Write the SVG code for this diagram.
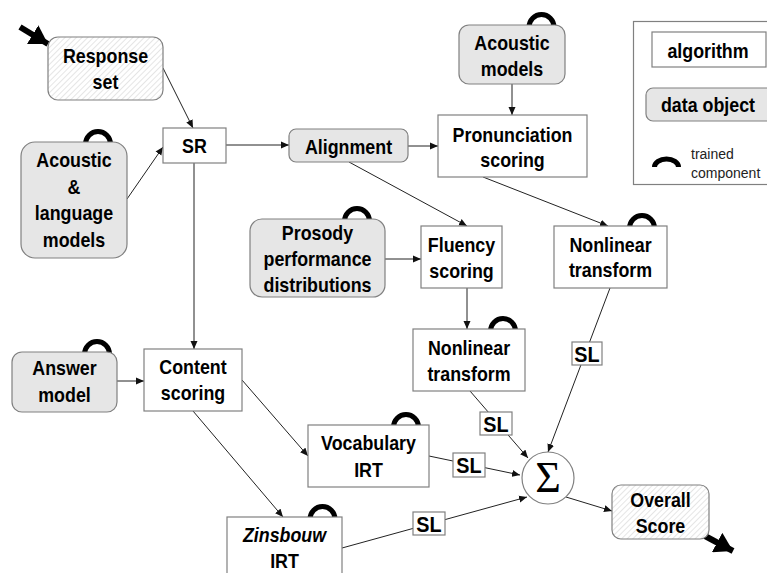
<svg xmlns="http://www.w3.org/2000/svg" width="767" height="573" viewBox="0 0 767 573">
<defs>
<pattern id="hatch" patternUnits="userSpaceOnUse" width="4" height="4" patternTransform="rotate(45)">
<rect width="4" height="4" fill="#ffffff"/>
<line x1="0" y1="0" x2="0" y2="4" stroke="#d4d4d4" stroke-width="1.2"/>
</pattern>
<marker id="ah" markerUnits="userSpaceOnUse" markerWidth="9" markerHeight="8" refX="8" refY="4" orient="auto">
<path d="M0,0.5 L8,4 L0,7.5 Z" fill="#111"/>
</marker>
<marker id="big" markerUnits="userSpaceOnUse" markerWidth="20" markerHeight="22" refX="18" refY="11" orient="auto">
<path d="M0,0 L18,11 L0,22 Z" fill="#000"/>
</marker>
</defs>
<style>
.alg{fill:#fff;stroke:#808080;stroke-width:1.2}
.dat{fill:#e6e6e6;stroke:#808080;stroke-width:1.2}
.hat{fill:url(#hatch);stroke:#808080;stroke-width:1.2}
.t{font-family:"Liberation Sans",Arial,sans-serif;font-weight:bold;font-size:21px;fill:#000;text-anchor:middle}
.sl{font-family:"Liberation Sans",Arial,sans-serif;font-weight:bold;font-size:22px;fill:#000;text-anchor:middle}
.arc{fill:none;stroke:#000;stroke-width:5}
.c{fill:none;stroke:#222;stroke-width:1}
.slb{fill:#fff;stroke:#808080;stroke-width:1.2}
</style>
<rect width="767" height="573" fill="#fff"/>

<g id="connectors">
<line class="c" x1="163" y1="68" x2="193" y2="128" marker-end="url(#ah)"/>
<line class="c" x1="127" y1="199" x2="163" y2="147" marker-end="url(#ah)"/>
<line class="c" x1="226" y1="145" x2="289" y2="145" marker-end="url(#ah)"/>
<line class="c" x1="408" y1="146" x2="438" y2="146" marker-end="url(#ah)"/>
<line class="c" x1="512" y1="84" x2="512" y2="115" marker-end="url(#ah)"/>
<line class="c" x1="349" y1="162" x2="467" y2="226" marker-end="url(#ah)"/>
<line class="c" x1="483" y1="177" x2="608" y2="226" marker-end="url(#ah)"/>
<line class="c" x1="385" y1="259" x2="421" y2="259" marker-end="url(#ah)"/>
<line class="c" x1="467" y1="288" x2="467" y2="329" marker-end="url(#ah)"/>
<line class="c" x1="194" y1="163" x2="194" y2="349" marker-end="url(#ah)"/>
<line class="c" x1="117" y1="381" x2="144" y2="381" marker-end="url(#ah)"/>
<line class="c" x1="242" y1="380" x2="308" y2="456" marker-end="url(#ah)"/>
<line class="c" x1="193" y1="411" x2="283" y2="517" marker-end="url(#ah)"/>
<line class="c" x1="470" y1="391" x2="528" y2="458" marker-end="url(#ah)"/>
<line class="c" x1="610" y1="288" x2="548" y2="452" marker-end="url(#ah)"/>
<line class="c" x1="429" y1="456" x2="520" y2="475" marker-end="url(#ah)"/>
<line class="c" x1="342" y1="548" x2="527" y2="497" marker-end="url(#ah)"/>
<line class="c" x1="566" y1="497" x2="612" y2="511" marker-end="url(#ah)"/>
<line x1="20" y1="27" x2="48" y2="44" stroke="#000" stroke-width="6" marker-end="url(#big)"/>
<line x1="705" y1="536" x2="733" y2="551" stroke="#000" stroke-width="6" marker-end="url(#big)"/>
<g id="sl-labels">
<rect class="slb" x="480" y="412" width="32" height="23"/>
<text class="sl" transform="translate(496 431.5) scale(0.9 1)">SL</text>
<rect class="slb" x="572" y="342" width="30" height="23"/>
<text class="sl" transform="translate(587 361.5) scale(0.9 1)">SL</text>
<rect class="slb" x="453" y="453" width="32" height="24"/>
<text class="sl" transform="translate(469 473) scale(0.9 1)">SL</text>
<rect class="slb" x="413" y="512" width="32" height="23"/>
<text class="sl" transform="translate(429 531.5) scale(0.9 1)">SL</text>
</g>
</g>

<g id="response-set">
<rect class="hat" x="48" y="37" width="115" height="63" rx="10"/>
<text class="t" transform="translate(105.5 63) scale(0.85 1)">Response</text>
<text class="t" transform="translate(105.5 89) scale(0.85 1)">set</text>
</g>

<g id="acoustic-language-models">
<circle class="arc" cx="98" cy="144" r="12.5"/>
<rect class="dat" x="21" y="142" width="106" height="116" rx="14"/>
<text class="t" transform="translate(74 167) scale(0.85 1)">Acoustic</text>
<text class="t" transform="translate(74 194) scale(0.85 1)">&amp;</text>
<text class="t" transform="translate(74 220) scale(0.85 1)">language</text>
<text class="t" transform="translate(74 247) scale(0.85 1)">models</text>
</g>

<g id="sr">
<rect class="alg" x="163" y="128" width="63" height="35"/>
<text class="t" transform="translate(194.5 153) scale(0.85 1)">SR</text>
</g>

<g id="alignment">
<rect class="dat" x="289" y="129" width="119" height="33" rx="7"/>
<text class="t" transform="translate(348.5 154) scale(0.85 1)">Alignment</text>
</g>

<g id="acoustic-models">
<circle class="arc" cx="541.5" cy="27" r="12.5"/>
<rect class="dat" x="459" y="25" width="106" height="59" rx="10"/>
<text class="t" transform="translate(512 50) scale(0.85 1)">Acoustic</text>
<text class="t" transform="translate(512 76) scale(0.85 1)">models</text>
</g>

<g id="pronunciation-scoring">
<rect class="alg" x="438" y="115" width="149" height="62"/>
<text class="t" transform="translate(512.5 142) scale(0.85 1)">Pronunciation</text>
<text class="t" transform="translate(512.5 167) scale(0.85 1)">scoring</text>
</g>

<g id="prosody">
<circle class="arc" cx="357" cy="221" r="12.5"/>
<rect class="dat" x="250" y="219" width="135" height="78" rx="12"/>
<text class="t" transform="translate(317.5 240) scale(0.85 1)">Prosody</text>
<text class="t" transform="translate(317.5 266) scale(0.85 1)">performance</text>
<text class="t" transform="translate(317.5 292) scale(0.85 1)">distributions</text>
</g>

<g id="fluency-scoring">
<rect class="alg" x="421" y="226" width="81" height="62"/>
<text class="t" transform="translate(461.5 252) scale(0.85 1)">Fluency</text>
<text class="t" transform="translate(461.5 278) scale(0.85 1)">scoring</text>
</g>

<g id="nonlinear-transform-right">
<circle class="arc" cx="642" cy="228" r="12.5"/>
<rect class="alg" x="554" y="226" width="113" height="62"/>
<text class="t" transform="translate(610.5 252) scale(0.85 1)">Nonlinear</text>
<text class="t" transform="translate(610.5 277) scale(0.85 1)">transform</text>
</g>

<g id="answer-model">
<circle class="arc" cx="97" cy="354" r="12.5"/>
<rect class="dat" x="12" y="352" width="105" height="60" rx="10"/>
<text class="t" transform="translate(64.5 375) scale(0.85 1)">Answer</text>
<text class="t" transform="translate(64.5 402) scale(0.85 1)">model</text>
</g>

<g id="content-scoring">
<rect class="alg" x="144" y="349" width="98" height="62"/>
<text class="t" transform="translate(193 374) scale(0.85 1)">Content</text>
<text class="t" transform="translate(193 400) scale(0.85 1)">scoring</text>
</g>

<g id="nonlinear-transform-mid">
<circle class="arc" cx="503" cy="331" r="12.5"/>
<rect class="alg" x="413" y="329" width="112" height="62"/>
<text class="t" transform="translate(469 355) scale(0.85 1)">Nonlinear</text>
<text class="t" transform="translate(469 381) scale(0.85 1)">transform</text>
</g>

<g id="vocabulary-irt">
<circle class="arc" cx="406" cy="427" r="12.5"/>
<rect class="alg" x="308" y="425" width="121" height="62"/>
<text class="t" transform="translate(368.5 450) scale(0.85 1)">Vocabulary</text>
<text class="t" transform="translate(368.5 477) scale(0.85 1)">IRT</text>
</g>

<g id="zinsbouw-irt">
<circle class="arc" cx="322.5" cy="519" r="12.5"/>
<rect class="alg" x="227" y="517" width="115" height="70"/>
<text class="t" font-style="italic" transform="translate(284.5 542) scale(0.85 1)">Zinsbouw</text>
<text class="t" transform="translate(284.5 568) scale(0.85 1)">IRT</text>
</g>

<g id="sum">
<circle cx="548" cy="478" r="26" fill="#fff" stroke="#808080" stroke-width="1.2"/>
<text x="548" y="492" font-family="'Liberation Serif','Times New Roman',serif" font-size="44" text-anchor="middle" fill="#000">Σ</text>
</g>

<g id="overall-score">
<rect class="hat" x="612" y="485" width="97" height="54" rx="9"/>
<text class="t" transform="translate(660.5 507) scale(0.85 1)">Overall</text>
<text class="t" transform="translate(660.5 533) scale(0.85 1)">Score</text>
</g>

<g id="legend">
<rect x="633.5" y="21.5" width="160" height="163" fill="#fff" stroke="#808080" stroke-width="1.2"/>
<rect class="alg" x="652" y="32" width="114" height="35"/>
<text class="t" transform="translate(708 58) scale(0.85 1)">algorithm</text>
<rect class="dat" x="646" y="88" width="140" height="33" rx="7"/>
<text class="t" transform="translate(708 112) scale(0.85 1)">data object</text>
<path d="M654.5,167 A12,8 0 0 1 678.5,167" class="arc"/>
<text x="691" y="159" font-family="'Liberation Sans',Arial,sans-serif" font-size="14" fill="#222">trained</text>
<text x="691" y="178" font-family="'Liberation Sans',Arial,sans-serif" font-size="14" fill="#222">component</text>
</g>
</svg>
